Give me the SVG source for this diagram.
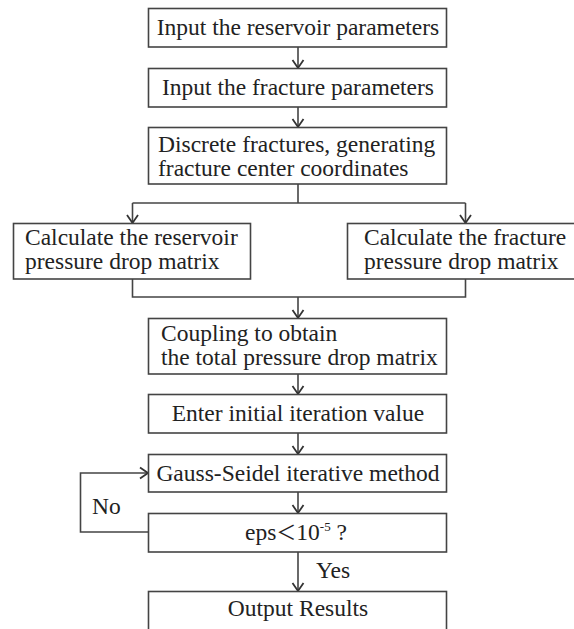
<svg xmlns="http://www.w3.org/2000/svg" width="574" height="629" viewBox="0 0 574 629">
<defs>
<style>
.box{fill:#fff;stroke:#444;stroke-width:1.6}
.t{font-family:"Liberation Serif","Times New Roman",serif;font-size:23.5px;fill:#222}
.c{text-anchor:middle}
.ln{fill:none;stroke:#444;stroke-width:1.6}
</style>
<marker id="ah" viewBox="-10 -7 12 14" refX="0" refY="0" markerWidth="12" markerHeight="14" markerUnits="userSpaceOnUse" orient="auto">
<path d="M-8,-5.5 L0,0 L-8,5.5" fill="none" stroke="#333" stroke-width="1.8"/>
</marker>
</defs>
<rect width="574" height="629" fill="#fff"/>
<g id="connectors">
<path class="ln" d="M298,47 V68" marker-end="url(#ah)"/>
<path class="ln" d="M298,107 V127" marker-end="url(#ah)"/>
<path class="ln" d="M298,184 V203"/>
<path class="ln" d="M132.5,203 H465.5"/>
<path class="ln" d="M132.5,203 V223" marker-end="url(#ah)"/>
<path class="ln" d="M465.5,203 V223" marker-end="url(#ah)"/>
<path class="ln" d="M132.5,279 V297 H465.5 V279"/>
<path class="ln" d="M298,297 V318" marker-end="url(#ah)"/>
<path class="ln" d="M298,374 V394" marker-end="url(#ah)"/>
<path class="ln" d="M298,433 V454" marker-end="url(#ah)"/>
<path class="ln" d="M298,492 V513" marker-end="url(#ah)"/>
<path class="ln" d="M298,552 V591" marker-end="url(#ah)"/>
<path class="ln" d="M148,532 H80.5 V473 H148" marker-end="url(#ah)"/>
<text class="t" x="92" y="514">No</text>
<text class="t" x="316" y="578">Yes</text>
</g>
<g id="n1">
<rect class="box" x="148.5" y="8.5" width="298" height="38.5"/>
<text class="t c" x="298" y="35">Input the reservoir parameters</text>
</g>
<g id="n2">
<rect class="box" x="148.5" y="68.5" width="298" height="38.5"/>
<text class="t c" x="298" y="95">Input the fracture parameters</text>
</g>
<g id="n3">
<rect class="box" x="148.5" y="127.5" width="298" height="56.5"/>
<text class="t" x="158" y="152">Discrete fractures, generating</text>
<text class="t" x="158" y="176">fracture center coordinates</text>
</g>
<g id="n4">
<rect class="box" x="13.5" y="223.5" width="237" height="55.5"/>
<text class="t" x="25" y="245">Calculate the reservoir</text>
<text class="t" x="25" y="269">pressure drop matrix</text>
</g>
<g id="n5">
<rect class="box" x="347.5" y="223.5" width="240" height="55.5"/>
<text class="t" x="364" y="245">Calculate the fracture</text>
<text class="t" x="364" y="269">pressure drop matrix</text>
</g>
<g id="n6">
<rect class="box" x="148.5" y="318.5" width="298" height="55.5"/>
<text class="t" x="161" y="341">Coupling to obtain</text>
<text class="t" x="161" y="365">the total pressure drop matrix</text>
</g>
<g id="n7">
<rect class="box" x="148.5" y="394.5" width="298" height="38.5"/>
<text class="t c" x="298" y="421">Enter initial iteration value</text>
</g>
<g id="n8">
<rect class="box" x="148.5" y="454.5" width="298" height="37.5"/>
<text class="t c" x="298" y="480.5">Gauss-Seidel iterative method</text>
</g>
<g id="n9">
<rect class="box" x="148.5" y="513.5" width="298" height="38.5"/>
<text class="t" x="245" y="540">eps<tspan font-family="'Noto Sans CJK SC',sans-serif" font-size="20">＜</tspan>10<tspan font-size="13" dy="-9">-5</tspan><tspan dy="9"> ?</tspan></text>
</g>
<g id="n10">
<rect class="box" x="148.5" y="591.5" width="298" height="39"/>
<text class="t c" x="298" y="616">Output Results</text>
</g>
</svg>
